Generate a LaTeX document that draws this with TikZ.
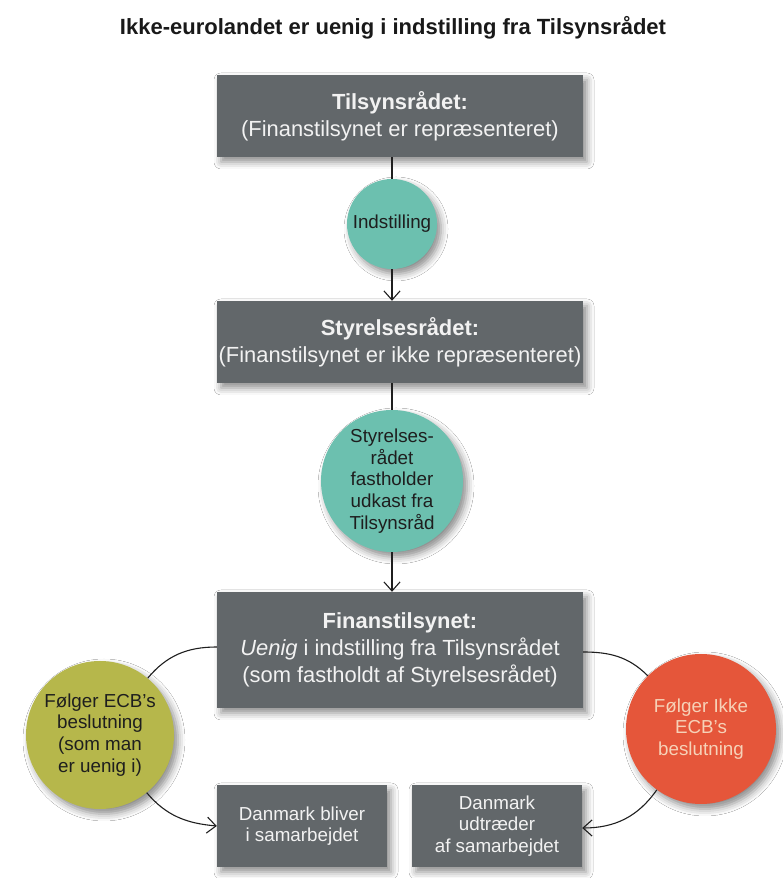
\documentclass[tikz,border=0pt]{standalone}
\usepackage{fontspec}
\setmainfont{Liberation Sans}
\usetikzlibrary{arrows.meta,shadows.blur}
\definecolor{boxgray}{HTML}{62676A}
\definecolor{boxtext}{HTML}{F2F2F2}
\definecolor{teal}{HTML}{6CC0AF}
\definecolor{olive}{HTML}{B6B74B}
\definecolor{redor}{HTML}{E5563A}
\definecolor{peach}{HTML}{F6D2B8}
\definecolor{darktext}{HTML}{1E1E1E}
\tikzset{
  shd/.style={blur shadow={shadow xshift=4pt,shadow yshift=-5pt,shadow blur radius=7pt,shadow opacity=45}},
  bigbox/.style={shd,fill=boxgray,text=boxtext,rectangle,inner sep=0pt,align=center,
     minimum width=366pt,font=\fontsize{21.9}{27.3}\selectfont},
  smallbox/.style={shd,fill=boxgray,text=boxtext,rectangle,inner sep=0pt,align=center,
     minimum width=170pt,minimum height=82pt,font=\fontsize{18.8}{21.5}\selectfont},
  disc/.style={shd,circle,inner sep=0pt,align=center,text=darktext,font=\fontsize{18.8}{21.8}\selectfont},
  conn/.style={line width=1.1pt,draw=black!88},
  arr/.style={conn,-{Straight Barb[length=9pt,width=16pt,line width=1.1pt]}}
}
\begin{document}
\begin{tikzpicture}[x=1pt,y=1pt]
\useasboundingbox[fill=white] (0,0) rectangle (783,878);
\node[font=\fontsize{22}{26}\selectfont\bfseries,text=black!90] (title) at (393,850)
  {Ikke-eurolandet er uenig i indstilling fra Tilsynsrådet};
\node[bigbox,minimum height=82pt] (b1) at (400,762)
  {\textbf{Tilsynsrådet:}\\(Finanstilsynet er repræsenteret)};
\node[disc,fill=teal,minimum size=90pt] (c1) at (392,654) {Indstilling};
\node[bigbox,minimum height=82pt] (b2) at (400,536)
  {\textbf{Styrelsesrådet:}\\(Finanstilsynet er ikke repræsenteret)};
\node[disc,fill=teal,minimum size=142pt] (c2) at (392,397)
  {Styrelses-\\rådet\\fastholder\\udkast fra\\Tilsynsråd};
\node[bigbox,minimum height=116pt] (b3) at (400,228)
  {\textbf{Finanstilsynet:}\\\textit{Uenig} i indstilling fra Tilsynsrådet\\(som fastholdt af Styrelsesrådet)};
\node[disc,fill=olive,minimum size=148pt] (lc) at (100,143)
  {Følger ECB’s\\beslutning\\(som man\\er uenig i)};
\node[disc,fill=redor,text=peach,minimum size=150pt] (rc) at (701,149)
  {Følger Ikke\\ECB’s\\beslutning};
\node[smallbox] (b4) at (302,52) {Danmark bliver\\i samarbejdet};
\node[smallbox] (b5) at (497,52) {Danmark\\udtræder\\af samarbejdet};
\draw[conn] (c1.north |- b1.south) -- (c1.north);
\draw[arr] (c1.south) -- (c1.south |- b2.north);
\draw[conn] (c2.north |- b2.south) -- (c2.north);
\draw[arr] (c2.south) -- (c2.south |- b3.north);
\draw[conn] ([yshift=3pt]b3.west) to[out=180,in=50] (lc.50);
\draw[arr] (lc.-51) to[out=-50,in=175] (b4.west);
\draw[conn] ([yshift=-2pt]b3.east) to[out=0,in=135] (rc.135);
\draw[arr] (rc.-126) to[out=-125,in=0] ([yshift=-2pt]b5.east);
\end{tikzpicture}
\end{document}
